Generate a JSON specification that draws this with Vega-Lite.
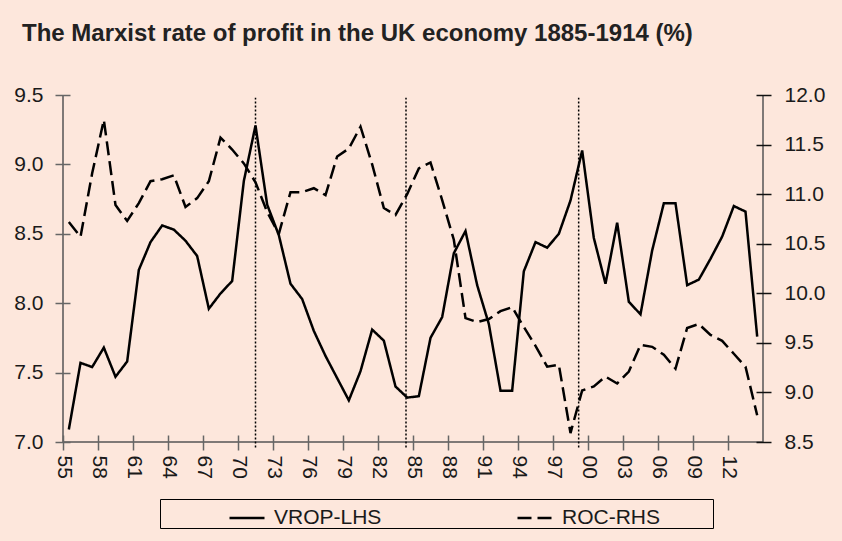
{
  "$schema": "https://vega.github.io/schema/vega-lite/v6.json",
  "autosize": "none",
  "width": 700,
  "height": 347,
  "padding": {"left": 63, "top": 95, "right": 79, "bottom": 99},
  "background": "#fde7dc",
  "title": {"text": "The Marxist rate of profit in the UK economy 1885-1914 (%)", "anchor": "start", "frame": "group", "dx": -41, "offset": 19, "baseline": "alphabetic", "font": "Liberation Sans", "fontSize": 24, "fontWeight": "bold", "color": "#222222"},
  "config": {
    "view": {"stroke": "#555555", "strokeWidth": 1.5, "strokeDash": [0, 700, 1394]},
    "axis": {"labelFont": "Liberation Sans", "labelFontSize": 21, "labelColor": "#1a1a1a", "grid": false, "title": null, "tickSize": 15, "offset": -7, "domain": false, "tickWidth": 1.5, "labelOverlap": false, "labelSeparation": 0, "labelFlush": false, "labelBound": false}
  },
  "datasets": {
    "series": [
      {"year": 1855, "series": "VROP-LHS", "value": 7.09}, {"year": 1856, "series": "VROP-LHS", "value": 7.57}, {"year": 1857, "series": "VROP-LHS", "value": 7.54}, {"year": 1858, "series": "VROP-LHS", "value": 7.68}, {"year": 1859, "series": "VROP-LHS", "value": 7.47},
      {"year": 1860, "series": "VROP-LHS", "value": 7.58}, {"year": 1861, "series": "VROP-LHS", "value": 8.24}, {"year": 1862, "series": "VROP-LHS", "value": 8.44}, {"year": 1863, "series": "VROP-LHS", "value": 8.56}, {"year": 1864, "series": "VROP-LHS", "value": 8.53},
      {"year": 1865, "series": "VROP-LHS", "value": 8.45}, {"year": 1866, "series": "VROP-LHS", "value": 8.34}, {"year": 1867, "series": "VROP-LHS", "value": 7.96}, {"year": 1868, "series": "VROP-LHS", "value": 8.07}, {"year": 1869, "series": "VROP-LHS", "value": 8.16},
      {"year": 1870, "series": "VROP-LHS", "value": 8.88}, {"year": 1871, "series": "VROP-LHS", "value": 9.28}, {"year": 1872, "series": "VROP-LHS", "value": 8.71}, {"year": 1873, "series": "VROP-LHS", "value": 8.49}, {"year": 1874, "series": "VROP-LHS", "value": 8.14},
      {"year": 1875, "series": "VROP-LHS", "value": 8.03}, {"year": 1876, "series": "VROP-LHS", "value": 7.80}, {"year": 1877, "series": "VROP-LHS", "value": 7.62}, {"year": 1878, "series": "VROP-LHS", "value": 7.46}, {"year": 1879, "series": "VROP-LHS", "value": 7.30},
      {"year": 1880, "series": "VROP-LHS", "value": 7.51}, {"year": 1881, "series": "VROP-LHS", "value": 7.81}, {"year": 1882, "series": "VROP-LHS", "value": 7.73}, {"year": 1883, "series": "VROP-LHS", "value": 7.40}, {"year": 1884, "series": "VROP-LHS", "value": 7.32},
      {"year": 1885, "series": "VROP-LHS", "value": 7.33}, {"year": 1886, "series": "VROP-LHS", "value": 7.75}, {"year": 1887, "series": "VROP-LHS", "value": 7.90}, {"year": 1888, "series": "VROP-LHS", "value": 8.36}, {"year": 1889, "series": "VROP-LHS", "value": 8.52},
      {"year": 1890, "series": "VROP-LHS", "value": 8.13}, {"year": 1891, "series": "VROP-LHS", "value": 7.85}, {"year": 1892, "series": "VROP-LHS", "value": 7.37}, {"year": 1893, "series": "VROP-LHS", "value": 7.37}, {"year": 1894, "series": "VROP-LHS", "value": 8.23},
      {"year": 1895, "series": "VROP-LHS", "value": 8.44}, {"year": 1896, "series": "VROP-LHS", "value": 8.40}, {"year": 1897, "series": "VROP-LHS", "value": 8.50}, {"year": 1898, "series": "VROP-LHS", "value": 8.74}, {"year": 1899, "series": "VROP-LHS", "value": 9.10},
      {"year": 1900, "series": "VROP-LHS", "value": 8.47}, {"year": 1901, "series": "VROP-LHS", "value": 8.14}, {"year": 1902, "series": "VROP-LHS", "value": 8.58}, {"year": 1903, "series": "VROP-LHS", "value": 8.01}, {"year": 1904, "series": "VROP-LHS", "value": 7.92},
      {"year": 1905, "series": "VROP-LHS", "value": 8.38}, {"year": 1906, "series": "VROP-LHS", "value": 8.72}, {"year": 1907, "series": "VROP-LHS", "value": 8.72}, {"year": 1908, "series": "VROP-LHS", "value": 8.13}, {"year": 1909, "series": "VROP-LHS", "value": 8.17},
      {"year": 1910, "series": "VROP-LHS", "value": 8.32}, {"year": 1911, "series": "VROP-LHS", "value": 8.48}, {"year": 1912, "series": "VROP-LHS", "value": 8.70}, {"year": 1913, "series": "VROP-LHS", "value": 8.66}, {"year": 1914, "series": "VROP-LHS", "value": 7.76},
      {"year": 1855, "series": "ROC-RHS", "value": 10.72}, {"year": 1856, "series": "ROC-RHS", "value": 10.57}, {"year": 1857, "series": "ROC-RHS", "value": 11.21}, {"year": 1858, "series": "ROC-RHS", "value": 11.75}, {"year": 1859, "series": "ROC-RHS", "value": 10.89},
      {"year": 1860, "series": "ROC-RHS", "value": 10.73}, {"year": 1861, "series": "ROC-RHS", "value": 10.91}, {"year": 1862, "series": "ROC-RHS", "value": 11.13}, {"year": 1863, "series": "ROC-RHS", "value": 11.15}, {"year": 1864, "series": "ROC-RHS", "value": 11.19},
      {"year": 1865, "series": "ROC-RHS", "value": 10.87}, {"year": 1866, "series": "ROC-RHS", "value": 10.96}, {"year": 1867, "series": "ROC-RHS", "value": 11.13}, {"year": 1868, "series": "ROC-RHS", "value": 11.57}, {"year": 1869, "series": "ROC-RHS", "value": 11.45},
      {"year": 1870, "series": "ROC-RHS", "value": 11.31}, {"year": 1871, "series": "ROC-RHS", "value": 11.12}, {"year": 1872, "series": "ROC-RHS", "value": 10.82}, {"year": 1873, "series": "ROC-RHS", "value": 10.60}, {"year": 1874, "series": "ROC-RHS", "value": 11.02},
      {"year": 1875, "series": "ROC-RHS", "value": 11.02}, {"year": 1876, "series": "ROC-RHS", "value": 11.06}, {"year": 1877, "series": "ROC-RHS", "value": 10.99}, {"year": 1878, "series": "ROC-RHS", "value": 11.38}, {"year": 1879, "series": "ROC-RHS", "value": 11.46},
      {"year": 1880, "series": "ROC-RHS", "value": 11.68}, {"year": 1881, "series": "ROC-RHS", "value": 11.30}, {"year": 1882, "series": "ROC-RHS", "value": 10.86}, {"year": 1883, "series": "ROC-RHS", "value": 10.79}, {"year": 1884, "series": "ROC-RHS", "value": 11.00},
      {"year": 1885, "series": "ROC-RHS", "value": 11.26}, {"year": 1886, "series": "ROC-RHS", "value": 11.32}, {"year": 1887, "series": "ROC-RHS", "value": 10.94}, {"year": 1888, "series": "ROC-RHS", "value": 10.54}, {"year": 1889, "series": "ROC-RHS", "value": 9.75},
      {"year": 1890, "series": "ROC-RHS", "value": 9.71}, {"year": 1891, "series": "ROC-RHS", "value": 9.74}, {"year": 1892, "series": "ROC-RHS", "value": 9.82}, {"year": 1893, "series": "ROC-RHS", "value": 9.86}, {"year": 1894, "series": "ROC-RHS", "value": 9.66},
      {"year": 1895, "series": "ROC-RHS", "value": 9.47}, {"year": 1896, "series": "ROC-RHS", "value": 9.26}, {"year": 1897, "series": "ROC-RHS", "value": 9.28}, {"year": 1898, "series": "ROC-RHS", "value": 8.59}, {"year": 1899, "series": "ROC-RHS", "value": 9.02},
      {"year": 1900, "series": "ROC-RHS", "value": 9.06}, {"year": 1901, "series": "ROC-RHS", "value": 9.16}, {"year": 1902, "series": "ROC-RHS", "value": 9.09}, {"year": 1903, "series": "ROC-RHS", "value": 9.21}, {"year": 1904, "series": "ROC-RHS", "value": 9.48},
      {"year": 1905, "series": "ROC-RHS", "value": 9.46}, {"year": 1906, "series": "ROC-RHS", "value": 9.38}, {"year": 1907, "series": "ROC-RHS", "value": 9.24}, {"year": 1908, "series": "ROC-RHS", "value": 9.65}, {"year": 1909, "series": "ROC-RHS", "value": 9.69},
      {"year": 1910, "series": "ROC-RHS", "value": 9.58}, {"year": 1911, "series": "ROC-RHS", "value": 9.52}, {"year": 1912, "series": "ROC-RHS", "value": 9.39}, {"year": 1913, "series": "ROC-RHS", "value": 9.26}, {"year": 1914, "series": "ROC-RHS", "value": 8.77}
    ],
    "breaks": [{"year": 1871}, {"year": 1883.9}, {"year": 1898.7}]
  },
  "layer": [
    {
      "data": {"name": "breaks"},
      "mark": {"type": "rule", "color": "black", "strokeWidth": 1.5, "strokeDash": [2, 2]},
      "encoding": {
        "x": {"field": "year", "type": "quantitative", "scale": {"domain": [1854.5, 1914.5], "nice": false, "zero": false},
          "axis": {"values": [1854.5, 1857.5, 1860.5, 1863.5, 1866.5, 1869.5, 1872.5, 1875.5, 1878.5, 1881.5, 1884.5, 1887.5, 1890.5, 1893.5, 1896.5, 1899.5, 1902.5, 1905.5, 1908.5, 1911.5], "labelExpr": "slice(toString(floor(datum.value) + 1), 2)", "labelAngle": 90, "labelPadding": 5, "labelOverlap": false, "labelSeparation": 0, "labelBound": false, "tickColor": "#666666"}},
        "y": {"datum": 6.96, "type": "quantitative", "scale": {"domain": [7, 9.5], "nice": false, "zero": false}, "axis": null},
        "y2": {"datum": 9.48}
      }
    },
    {
      "data": {"name": "series"},
      "transform": [{"filter": "datum.series === 'VROP-LHS'"}],
      "mark": {"type": "line", "color": "black", "strokeWidth": 2.5},
      "encoding": {
        "x": {"field": "year", "type": "quantitative", "scale": {"domain": [1854.5, 1914.5], "nice": false, "zero": false},
          "axis": {"values": [1854.5, 1857.5, 1860.5, 1863.5, 1866.5, 1869.5, 1872.5, 1875.5, 1878.5, 1881.5, 1884.5, 1887.5, 1890.5, 1893.5, 1896.5, 1899.5, 1902.5, 1905.5, 1908.5, 1911.5], "labelExpr": "slice(toString(floor(datum.value) + 1), 2)", "labelAngle": 90, "labelPadding": 5, "labelOverlap": false, "labelSeparation": 0, "labelBound": false, "tickColor": "#666666"}},
        "y": {"field": "value", "type": "quantitative", "scale": {"domain": [7, 9.5], "nice": false, "zero": false},
          "axis": {"orient": "left", "values": [7, 7.5, 8, 8.5, 9, 9.5], "format": ".1f", "labelPadding": 12, "tickColor": "#666666"}},
        "strokeDash": {"field": "series", "type": "nominal",
          "scale": {"domain": ["VROP-LHS", "ROC-RHS"], "range": [[1, 0], [14, 6]]},
          "legend": {"orient": "none", "legendX": 97, "legendY": 404, "direction": "horizontal", "title": null, "strokeColor": "black", "padding": 0, "symbolType": "stroke", "symbolSize": 1225, "symbolStrokeWidth": 2.5, "symbolStrokeColor": "black", "symbolOffset": 68, "labelFont": "Liberation Sans", "labelFontSize": 21, "labelColor": "#1a1a1a", "labelOffset": 8, "columnPadding": 66, "labelExpr": "datum.label == 'ROC-RHS' ? datum.label + '\u00a0\u00a0\u00a0\u00a0\u00a0\u00a0\u00a0\u00a0\u00a0\u200b' : datum.label"}}
      }
    },
    {
      "data": {"name": "series"},
      "transform": [{"filter": "datum.series === 'ROC-RHS'"}],
      "mark": {"type": "line", "color": "black", "strokeWidth": 2.5},
      "encoding": {
        "x": {"field": "year", "type": "quantitative", "scale": {"domain": [1854.5, 1914.5], "nice": false, "zero": false},
          "axis": {"values": [1854.5, 1857.5, 1860.5, 1863.5, 1866.5, 1869.5, 1872.5, 1875.5, 1878.5, 1881.5, 1884.5, 1887.5, 1890.5, 1893.5, 1896.5, 1899.5, 1902.5, 1905.5, 1908.5, 1911.5], "labelExpr": "slice(toString(floor(datum.value) + 1), 2)", "labelAngle": 90, "labelPadding": 5, "labelOverlap": false, "labelSeparation": 0, "labelBound": false, "tickColor": "#666666"}},
        "y": {"field": "value", "type": "quantitative", "scale": {"domain": [8.5, 12], "nice": false, "zero": false},
          "axis": {"orient": "right", "values": [8.5, 9, 9.5, 10, 10.5, 11, 11.5, 12], "format": ".1f", "labelPadding": 13, "tickColor": "#111111"}},
        "strokeDash": {"field": "series", "type": "nominal", "scale": {"domain": ["VROP-LHS", "ROC-RHS"], "range": [[1, 0], [14, 6]]}}
      }
    }
  ],
  "resolve": {"scale": {"y": "independent"}}
}
